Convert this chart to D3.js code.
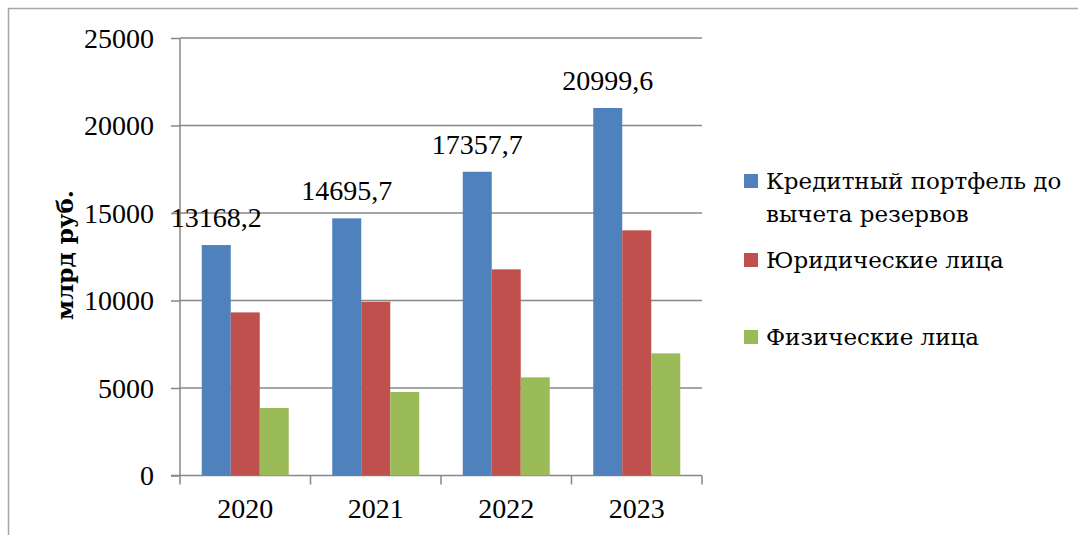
<!DOCTYPE html>
<meta charset="utf-8">
<script src="https://d3js.org/d3.v7.min.js"></script>
<style>
  body { margin: 0; background: #fff; }
  text { font-family: "DejaVu Serif", serif; fill: #000; }
</style>
<div id="chart"></div>
<script>
// data
var years = ["2020", "2021", "2022", "2023"];
var seriesNames = ["Кредитный портфель до вычета резервов", "Юридические лица", "Физические лица"];
var portfolio = [13168.2, 14695.7, 17357.7, 20999.6];
var legalEntities = [9320, 9930, 11780, 14010];
var individuals = [3860, 4770, 5610, 6980];
var yTicks = [0, 5000, 10000, 15000, 20000, 25000];
var colors = ["#4F81BD", "#C0504D", "#9BBB59"];

var W = 1078, H = 535;
var margin = {top: 38, left: 180, right: 376, bottom: 60};
var numFont = "Liberation Serif";

var svg = d3.select("#chart").append("svg")
  .attr("width", W)
  .attr("height", H);

// frame of the chart object
svg.append("path")
  .attr("d", "M8.5," + (H + 2) + "V8.5H" + (W + 2))
  .attr("fill", "none")
  .attr("stroke", "#a6a6a6")
  .attr("stroke-width", 1.5);

var x0 = d3.scaleBand()
  .domain(years)
  .range([margin.left, W - margin.right]);

var groupPad = 21.75;
var x1 = d3.scaleBand()
  .domain([0, 1, 2])
  .range([groupPad, x0.bandwidth() - groupPad]);

var y = d3.scaleLinear()
  .domain([0, 25000])
  .range([475.5, margin.top]);

// gridlines
svg.append("g")
  .selectAll("line")
  .data(yTicks.filter(function(d) { return d > 0; }))
  .enter().append("line")
    .attr("x1", margin.left)
    .attr("x2", W - margin.right)
    .attr("y1", function(d) { return y(d); })
    .attr("y2", function(d) { return y(d); })
    .attr("stroke", "#878787")
    .attr("stroke-width", 1.5);

// y axis
var yAxis = svg.append("g")
  .attr("transform", "translate(" + margin.left + ",0)")
  .call(d3.axisLeft(y).tickValues(yTicks).tickSize(9).tickPadding(17).tickFormat(d3.format("d")));
yAxis.selectAll("line, path").attr("stroke", "#878787").attr("stroke-width", 1.5);
yAxis.select(".domain").attr("d", "M0," + y(0) + "V" + y(25000));
yAxis.selectAll("text")
  .style("font-family", numFont)
  .style("font-size", "28px")
  .attr("dy", "0.33em");

// x axis
var xAxis = svg.append("g")
  .attr("transform", "translate(0," + y(0) + ")")
  .call(d3.axisBottom(x0).tickSize(0).tickPadding(23));
xAxis.select(".domain").attr("stroke", "#878787").attr("stroke-width", 1.5)
  .attr("d", "M" + (margin.left - 9) + ",0H" + (W - margin.right));
xAxis.selectAll("text")
  .style("font-family", numFont)
  .style("font-size", "28px");
xAxis.append("g")
  .selectAll("line")
  .data(d3.range(years.length + 1))
  .enter().append("line")
    .attr("x1", function(i) { return margin.left + i * x0.step(); })
    .attr("x2", function(i) { return margin.left + i * x0.step(); })
    .attr("y1", 0)
    .attr("y2", 9)
    .attr("stroke", "#878787")
    .attr("stroke-width", 1.5);

// bars
var rows = years.map(function(yr, i) {
  return {year: yr, values: [portfolio[i], legalEntities[i], individuals[i]]};
});

var groups = svg.append("g")
  .selectAll("g")
  .data(rows)
  .enter().append("g")
    .attr("transform", function(d) { return "translate(" + x0(d.year) + ",0)"; });

groups.selectAll("rect")
  .data(function(d) { return d.values.map(function(v, k) { return {k: k, v: v}; }); })
  .enter().append("rect")
    .attr("x", function(d) { return x1(d.k); })
    .attr("width", x1.bandwidth())
    .attr("y", function(d) { return y(d.v); })
    .attr("height", function(d) { return y(0) - y(d.v); })
    .attr("fill", function(d) { return colors[d.k]; });

// data labels for the portfolio series
groups.append("text")
  .attr("x", x1(0) + x1.bandwidth() / 2)
  .attr("y", function(d) { return y(d.values[0]) - 18; })
  .attr("text-anchor", "middle")
  .style("font-family", numFont)
  .style("font-size", "28px")
  .text(function(d) { return d3.format(".1f")(d.values[0]).replace(".", ","); });

// y title
svg.append("text")
  .attr("transform", "translate(73,255) rotate(-90)")
  .attr("text-anchor", "middle")
  .style("font-size", "23px")
  .style("font-weight", "bold")
  .text("млрд руб.");

// legend
var legendItems = [
  {lines: ["Кредитный портфель до", "вычета резервов"], y: 189},
  {lines: ["Юридические лица"], y: 268},
  {lines: ["Физические лица"], y: 345}
];
var legend = svg.append("g");
legendItems.forEach(function(item, i) {
  legend.append("rect")
    .attr("x", 744)
    .attr("y", item.y - 15)
    .attr("width", 14)
    .attr("height", 14)
    .attr("fill", colors[i]);
  var t = legend.append("text")
    .attr("x", 766)
    .attr("y", item.y)
    .style("font-size", "23px");
  item.lines.forEach(function(line, j) {
    t.append("tspan")
      .attr("x", 766)
      .attr("dy", j === 0 ? 0 : 33)
      .text(line);
  });
});
</script>
